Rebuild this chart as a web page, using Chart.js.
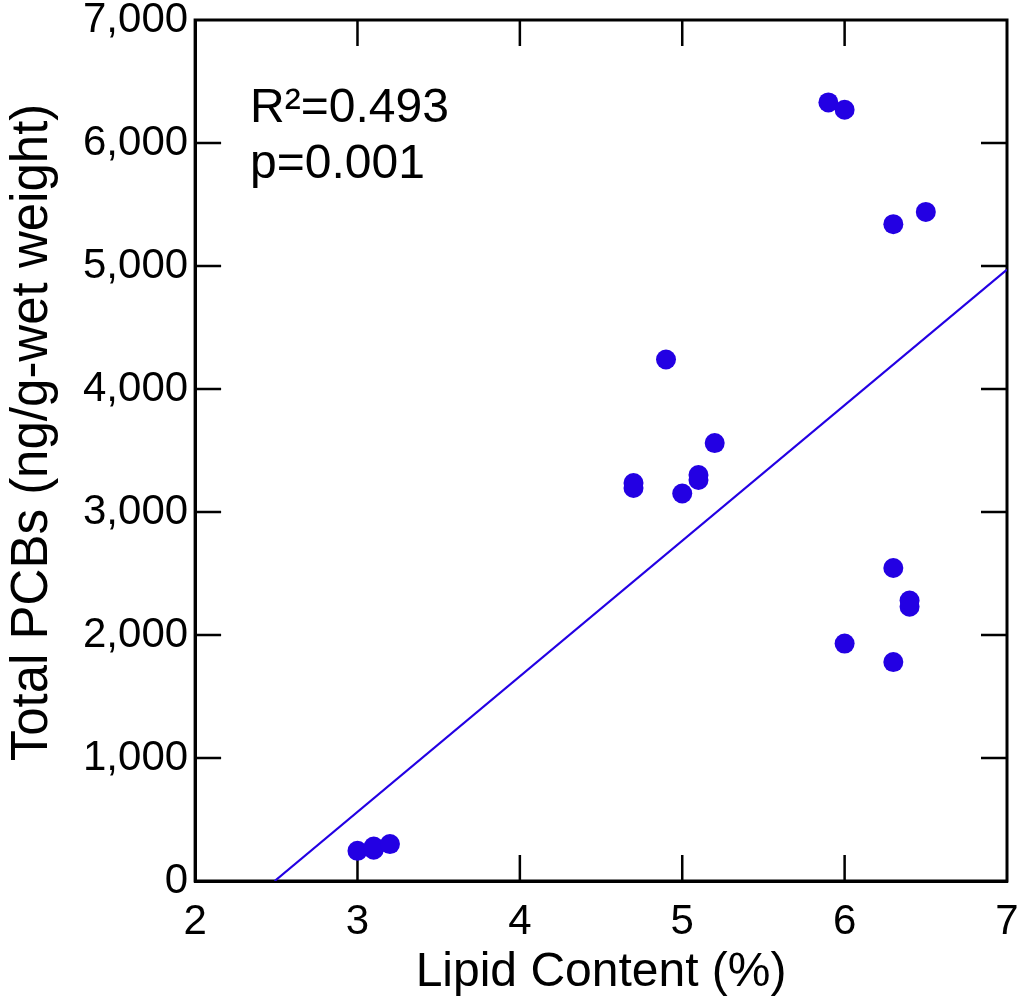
<!DOCTYPE html>
<html><head><meta charset="utf-8">
<script src="https://cdn.jsdelivr.net/npm/chart.js@4.4.1/dist/chart.umd.min.js"></script>
<style>html,body{margin:0;padding:0;background:#fff;}canvas{display:block;}</style>
</head><body>
<canvas id="c" width="1024" height="1002"></canvas>
<script>
// ---- data ----
const lipidContent = [5.9, 6.0, 6.3, 6.5, 4.9, 5.2, 5.1, 5.1, 5.0, 4.7, 4.7, 6.3, 6.4, 6.4, 6.0, 6.3, 3.0, 3.1, 3.1, 3.2];
const totalPCBs   = [6330, 6270, 5340, 5440, 4240, 3560, 3260, 3300, 3150, 3195, 3235, 2545, 2230, 2280, 1930, 1780, 245, 255, 280, 300];
const fitLipid = [2.49, 7.0];
const fitPCBs  = [0, 4970];
const xTickValues = [2, 3, 4, 5, 6, 7];
const yTickValues = [0, 1000, 2000, 3000, 4000, 5000, 6000, 7000];
const xTitle = 'Lipid Content (%)';
const yTitle = 'Total PCBs (ng/g-wet weight)';
const statLines = ['R\u00B2=0.493', 'p=0.001'];

const BLUE = '#2300e3';
const FONT = "'Liberation Sans', Arial, sans-serif";

const pointData = lipidContent.map((x, i) => ({x, y: totalPCBs[i]}));
const fitData = fitLipid.map((x, i) => ({x, y: fitPCBs[i]}));

const frameAndTicks = {
  id: 'frameAndTicks',
  beforeDatasetsDraw(chart) {
    const {ctx, chartArea: a, scales: {x, y}} = chart;
    const L = 26;
    ctx.save();
    ctx.strokeStyle = '#000';
    ctx.lineWidth = 2.5;
    ctx.beginPath();
    xTickValues.forEach(v => {
      const px = x.getPixelForValue(v);
      if (v === xTickValues[0] || v === xTickValues[xTickValues.length - 1]) return;
      ctx.moveTo(px, a.bottom); ctx.lineTo(px, a.bottom - L);
      ctx.moveTo(px, a.top); ctx.lineTo(px, a.top + L);
    });
    yTickValues.forEach(v => {
      const py = y.getPixelForValue(v);
      if (v === yTickValues[0] || v === yTickValues[yTickValues.length - 1]) return;
      ctx.moveTo(a.left, py); ctx.lineTo(a.left + L, py);
      ctx.moveTo(a.right, py); ctx.lineTo(a.right - L, py);
    });
    ctx.stroke();
    ctx.lineWidth = 3;
    ctx.strokeRect(a.left, a.top, a.right - a.left, a.bottom - a.top);
    ctx.restore();
  },
  afterDatasetsDraw(chart) {
    const {ctx, chartArea: a} = chart;
    ctx.save();
    ctx.fillStyle = '#000';
    ctx.font = '48px ' + FONT;
    ctx.textBaseline = 'alphabetic';
    ctx.textAlign = 'left';
    ctx.fillText(statLines[0], a.left + 55, a.top + 102);
    ctx.fillText(statLines[1], a.left + 55, a.top + 158);
    // y-axis title
    ctx.save();
    ctx.translate(33, (a.top + a.bottom) / 2 - 18);
    ctx.rotate(-Math.PI / 2);
    ctx.font = '51px ' + FONT;
    ctx.textAlign = 'center';
    ctx.textBaseline = 'middle';
    ctx.fillText(yTitle, 0, 0);
    ctx.restore();
    ctx.restore();
  }
};

new Chart(document.getElementById('c'), {
  type: 'scatter',
  data: {
    datasets: [
      {
        type: 'line',
        data: fitData,
        borderColor: BLUE,
        borderWidth: 2.2,
        pointRadius: 0,
        fill: false,
        showLine: true
      },
      {
        data: pointData,
        backgroundColor: BLUE,
        borderColor: BLUE,
        borderWidth: 0,
        pointRadius: 10,
        pointHoverRadius: 10
      }
    ]
  },
  options: {
    responsive: false,
    animation: false,
    devicePixelRatio: 1,
    layout: {padding: {left: 83, right: 17, top: 20, bottom: 5}},
    plugins: {legend: {display: false}, tooltip: {enabled: false}},
    scales: {
      x: {
        type: 'linear', min: 2, max: 7,
        afterBuildTicks: s => { s.ticks = xTickValues.map(v => ({value: v})); },
        ticks: {color: '#000', font: {family: FONT, size: 42, lineHeight: 1}, padding: 0,
                callback: v => String(v)},
        grid: {display: false, drawTicks: true, tickLength: 20},
        border: {display: true, color: '#000', width: 3},
        title: {display: true, text: xTitle, color: '#000',
                font: {family: FONT, size: 48, lineHeight: 1}, padding: {top: 6, bottom: 0}}
      },
      y: {
        type: 'linear', min: 0, max: 7000,
        afterBuildTicks: s => { s.ticks = yTickValues.map(v => ({value: v})); },
        ticks: {color: '#000', font: {family: FONT, size: 42, lineHeight: 0.952}, padding: 0,
                callback: v => Number(v).toLocaleString('en-US')},
        grid: {display: false, drawTicks: true, tickLength: 7},
        border: {display: true, color: '#000', width: 3},
        title: {display: false, text: yTitle}
      }
    }
  },
  plugins: [frameAndTicks]
});
</script>
</body></html>
